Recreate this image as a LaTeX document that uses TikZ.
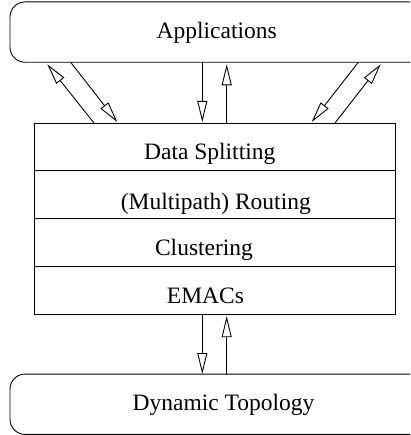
\documentclass[tikz,border=0pt]{standalone}
\usepackage{fontspec}
\setmainfont{Liberation Serif}
\usetikzlibrary{arrows.meta}
\begin{document}
\begin{tikzpicture}[x=1pt,y=-1pt,
  lbl/.style={anchor=base,font=\fontsize{23.5}{28}\selectfont,inner sep=0pt},
  layer/.style={draw,line width=0.9pt,inner sep=0pt,minimum width=360.7pt,minimum height=47.8pt},
  rbox/.style={draw,line width=0.9pt,rounded corners=15pt,inner sep=0pt,minimum width=414pt,minimum height=60.3pt},
  arr/.style={line width=0.9pt,-{Triangle[open,length=21pt,width=10pt]}}]
\useasboundingbox (0,0) rectangle (410,435);
\clip (0,0) rectangle (410,435);
% boxes
\node[rbox] (app) at (217,32.1) {};
\node[rbox] (topo) at (217,404.2) {};
\node[layer] (ds) at (214.65,146.9) {};
\node[layer] (mr) at (214.65,194.7) {};
\node[layer] (cl) at (214.65,242.5) {};
\node[layer] (em) at (214.65,290.3) {};
% labels
\node[lbl] (tapp) at (216.7,38.3) {Applications};
\node[lbl] (tds) at (209.7,160) {Data Splitting};
\node[lbl] (tmr) at (215.8,209.3) {(Multipath) Routing};
\node[lbl] (tcl) at (204,255.7) {Clustering};
\node[lbl] (tem) at (205.5,303.3) {EMACs};
\node[lbl] (ttopo) at (223.5,410) {Dynamic Topology};
% arrow end points
\coordinate (l1s) at (94,123);   \coordinate (l1e) at (47.3,64.3);
\coordinate (l2s) at (70.7,62.3); \coordinate (l2e) at (117.3,122);
\coordinate (r1s) at (358.3,62.3); \coordinate (r1e) at (311.7,122);
\coordinate (r2s) at (335,123);  \coordinate (r2e) at (380.7,64.3);
\coordinate (c1s) at (202.3,62.3); \coordinate (c1e) at (202.3,122);
\coordinate (c2s) at (226.7,123); \coordinate (c2e) at (226.7,64.3);
\coordinate (b1s) at (202.3,314.2); \coordinate (b1e) at (202.3,374);
\coordinate (b2s) at (226.7,374.3); \coordinate (b2e) at (226.7,316.2);
\draw[arr] (l1s) -- (l1e);
\draw[arr] (l2s) -- (l2e);
\draw[arr] (r1s) -- (r1e);
\draw[arr] (r2s) -- (r2e);
\draw[arr] (c1s) -- (c1e);
\draw[arr] (c2s) -- (c2e);
\draw[arr] (b1s) -- (b1e);
\draw[arr] (b2s) -- (b2e);
\end{tikzpicture}
\end{document}
